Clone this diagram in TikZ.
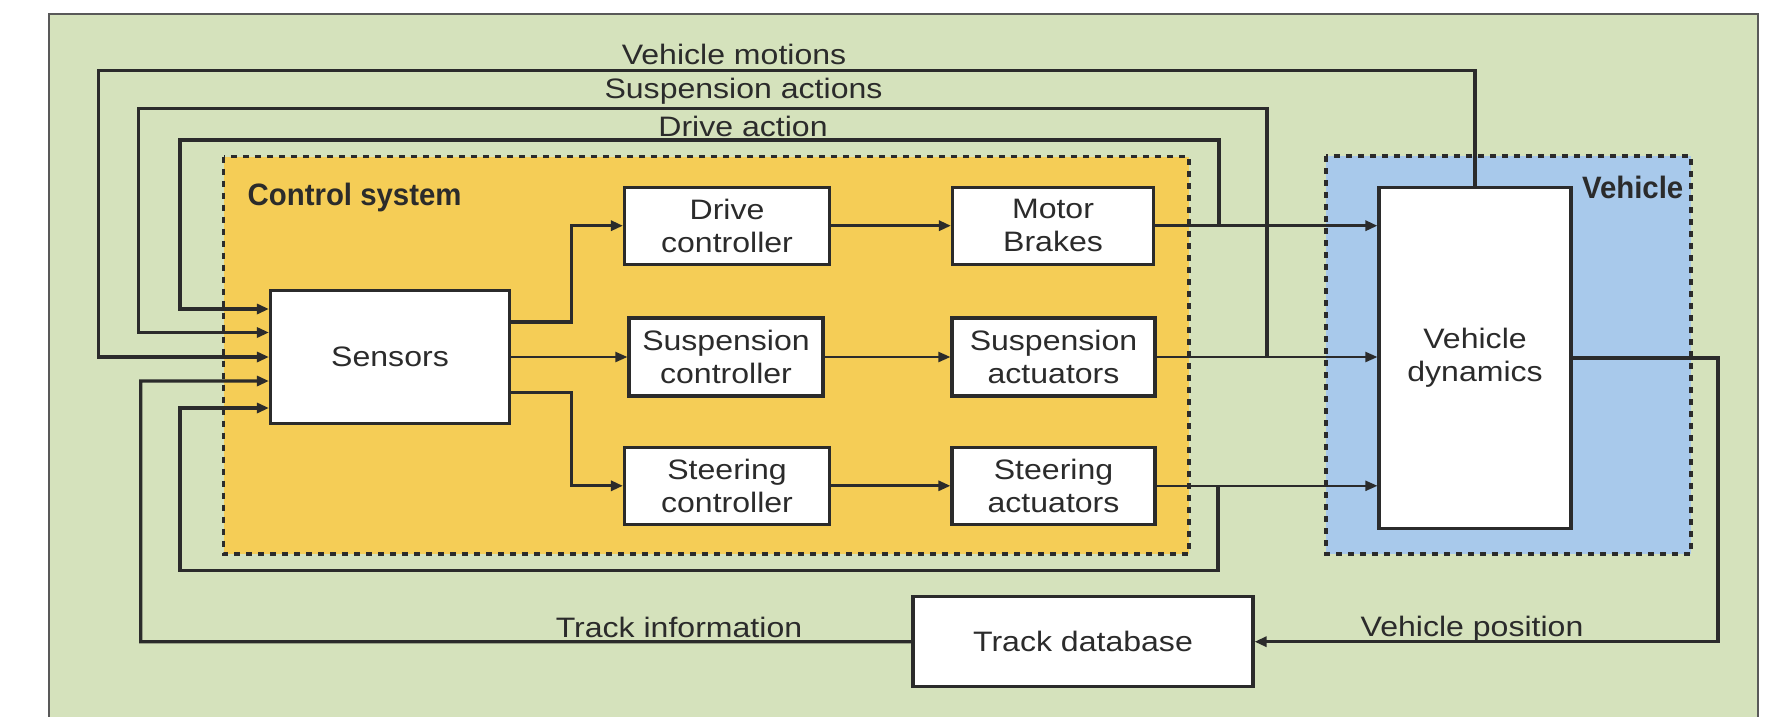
\documentclass[tikz,border=0pt]{standalone}
\usepackage{fontspec}
\setmainfont{Liberation Sans}[FakeStretch=1.14]
\newfontfamily\headfont{Liberation Sans}[FakeStretch=0.95]
\usetikzlibrary{arrows.meta,positioning,calc}

\definecolor{bggreen}{RGB}{213,226,188}
\definecolor{ctrlyellow}{RGB}{245,205,86}
\definecolor{vehblue}{RGB}{168,201,235}
\definecolor{linec}{RGB}{43,43,43}

\begin{document}
\begin{tikzpicture}[
    blk/.style={draw=linec, fill=white, line width=0.9pt, font=\fontsize{8}{9.4}\selectfont, text=linec, align=center, inner sep=0pt},
    arr/.style={-{Triangle[length=1.2mm,width=1mm]}, line width=0.9pt, draw=linec},
    thinline/.style={line width=0.6pt},
    lbl/.style={font=\fontsize{8}{9.4}\selectfont, text=linec, inner sep=0pt},
    head/.style={font=\headfont\bfseries\fontsize{8.8}{10}\selectfont, text=linec, inner sep=0pt},
    zone/.style={draw=linec, line width=0.9pt, dash pattern=on 0.6mm off 0.6mm},
]
\useasboundingbox (0,0) rectangle (17.82,-7.16);

% Background and zones
\draw[fill=bggreen, draw=black!65, line width=0.6pt] (0.49,-0.14) rectangle (17.58,-7.40);
\draw[zone, fill=ctrlyellow] (2.235,-1.567) rectangle (11.89,-5.54);
\draw[zone, fill=vehblue] (13.26,-1.56) rectangle (16.91,-5.54);
\node[head, anchor=base west] (ctrllbl) at (2.47,-2.06) {Control system};
\node[head, anchor=base east] (vehlbl) at (16.84,-1.99) {Vehicle};

% Blocks
\node[blk, minimum width=2.39cm, minimum height=1.33cm] (sensors) at (3.90,-3.57) {Sensors};
\node[blk, minimum width=2.05cm, minimum height=0.77cm] (drivectl) at (7.27,-2.257) {Drive\\controller};
\node[blk, minimum width=1.94cm, minimum height=0.78cm] (suspctl) at (7.26,-3.57) {Suspension\\controller};
\node[blk, minimum width=2.05cm, minimum height=0.77cm] (steerctl) at (7.27,-4.858) {Steering\\controller};
\node[blk, minimum width=2.01cm, minimum height=0.77cm] (motor) at (10.53,-2.257) {Motor\\Brakes};
\node[blk, minimum width=2.03cm, minimum height=0.78cm] (suspact) at (10.535,-3.57) {Suspension\\actuators};
\node[blk, minimum width=2.03cm, minimum height=0.77cm] (steeract) at (10.535,-4.858) {Steering\\actuators};
\node[blk, minimum width=1.92cm, minimum height=3.41cm] (vdyn) at (14.75,-3.58) {Vehicle\\dynamics};
\node[blk, minimum width=3.40cm, minimum height=0.90cm] (trackdb) at (10.83,-6.417) {Track database};

% Junctions and corners
\coordinate (driveJ) at (12.19,-2.257);
\coordinate (suspJ) at (12.67,-3.57);
\coordinate (steerJ) at (12.18,-4.858);

% Forward path
\draw[arr] ([yshift=3.5mm]sensors.east) -- ++(0.6,0) |- (drivectl.west);
\draw[arr, thinline] (sensors.east) -- (suspctl.west);
\draw[arr] ([yshift=-3.55mm]sensors.east) -- ++(0.6,0) |- (steerctl.west);
\draw[arr] (drivectl) -- (motor);
\draw[arr, thinline] (suspctl) -- (suspact);
\draw[arr, line width=0.75pt] (steerctl) -- (steeract);
\draw[arr] (motor.east) -- (motor.east -| vdyn.west);
\draw[arr, thinline] (suspact.east) -- (suspact.east -| vdyn.west);
\draw[arr, thinline] (steeract.east) -- (steeract.east -| vdyn.west);

% Feedback loops
\draw[arr] (vdyn.north) |- (0.987,-0.707) |- ([yshift=0mm]sensors.west);
\draw[arr] (suspJ) |- (1.385,-1.083) |- ([yshift=2.45mm]sensors.west);
\draw[arr] (driveJ) |- (1.80,-1.40) |- ([yshift=4.8mm]sensors.west);
\draw[arr] (trackdb.west) -| (1.408,-3.81) -- ([yshift=-2.4mm]sensors.west);
\draw[arr] (steerJ) |- (1.80,-5.707) |- ([yshift=-5.1mm]sensors.west);
\draw[arr] (vdyn.east) -| (17.18,-6.417) -- (trackdb.east);

% Signal names
\node[lbl, anchor=base] (motionlbl) at (7.34,-0.65) {Vehicle motions};
\node[lbl, anchor=base] (susplbl) at (7.435,-0.983) {Suspension actions};
\node[lbl, anchor=base] (drivelbl) at (7.43,-1.36) {Drive action};
\node[lbl, anchor=base] (tracklbl) at (6.79,-6.37) {Track information};
\node[lbl, anchor=base] (poslbl) at (14.72,-6.367) {Vehicle position};
\end{tikzpicture}
\end{document}
